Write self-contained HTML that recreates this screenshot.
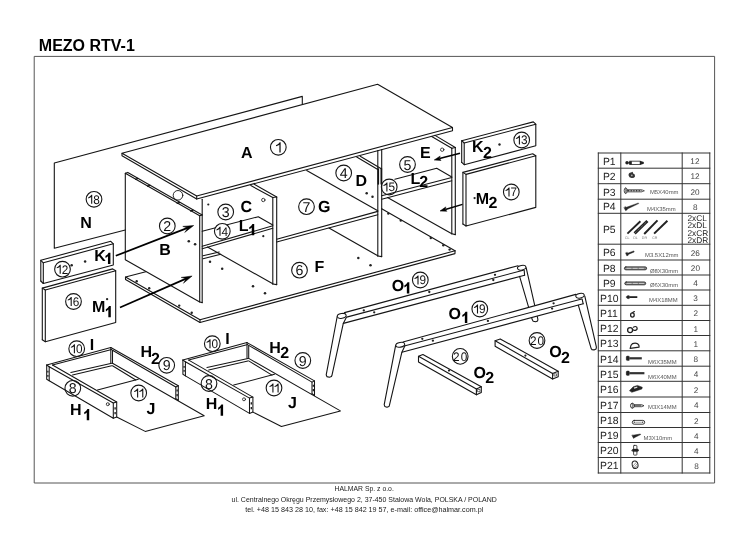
<!DOCTYPE html>
<html><head><meta charset="utf-8"><title>MEZO RTV-1</title>
<style>
html,body{margin:0;padding:0;background:#fff;}
body{width:756px;height:534px;position:relative;overflow:hidden;font-family:"Liberation Sans",sans-serif;}
svg{position:absolute;left:0;top:0;}
svg text{font-family:"Liberation Sans",sans-serif;text-rendering:geometricPrecision;}
.title{position:absolute;left:38.8px;top:37.2px;font-size:16px;font-weight:bold;color:#000;line-height:18px;white-space:nowrap;}
.foot{position:absolute;left:0;width:728.4px;text-align:center;font-size:7.1px;color:#222;line-height:10px;white-space:nowrap;transform-origin:364.2px 0;}
#page{position:absolute;left:0;top:0;width:756px;height:534px;background:#fff;filter:grayscale(1) blur(0.3px);}
</style></head><body><div id="page">
<div class="title">MEZO RTV-1</div>
<svg width="756" height="534" viewBox="0 0 756 534">
<g fill="none" stroke="#151515" stroke-linecap="round" stroke-linejoin="round">
<rect x="34.6" y="56.4" width="680" height="426.6" stroke="#555" stroke-width="1"/>
<path d="M125.3,230.0 L54.3,248.3 L54.3,163.0 L302.3,96.4 L302.3,103.9" stroke-width="1.1" />
<path d="M122.0,153.3 L196.7,196.0 L452.5,127.5 L377.6,84.3 Z" stroke-width="1.1" fill="#fff"/>
<path d="M122.0,153.3 L122.0,155.8 L196.7,199.0 L452.5,130.8 L452.5,127.5" stroke-width="1.1" />
<line x1="196.7" y1="196.0" x2="196.7" y2="199.0" stroke-width="1.1" />
<path d="M125.3,173.3 L199.7,215.8 L199.7,302.0 L125.3,259.8 Z" stroke-width="1.1" />
<path d="M125.3,173.3 L127.8,172.4 L202.2,214.9" stroke-width="1.1" />
<line x1="199.7" y1="215.8" x2="202.2" y2="214.9" stroke-width="1.1" />
<line x1="202.2" y1="199.2" x2="202.2" y2="302.6" stroke-width="1.1" />
<line x1="199.7" y1="302.0" x2="202.2" y2="302.6" stroke-width="1.1" />
<line x1="135.7" y1="179.3" x2="137.9" y2="178.4" stroke-width="1.4" />
<line x1="147.7" y1="186.2" x2="149.9" y2="185.3" stroke-width="1.4" />
<line x1="177.3" y1="203.4" x2="179.5" y2="202.5" stroke-width="1.4" />
<line x1="190.7" y1="211.0" x2="192.9" y2="210.1" stroke-width="1.4" />
<circle cx="178.0" cy="195.3" r="4.8" stroke-width="0.9"/>
<circle cx="188.8" cy="241.2" r="1.3" fill="#222" stroke="none"/>
<circle cx="195.1" cy="244.3" r="1.3" fill="#222" stroke="none"/>
<line x1="272.8" y1="197.5" x2="272.8" y2="284.0" stroke-width="1.1" />
<line x1="276.7" y1="197.0" x2="276.7" y2="284.6" stroke-width="1.1" />
<line x1="272.8" y1="284.0" x2="276.7" y2="284.6" stroke-width="1.1" />
<line x1="250.8" y1="185.6" x2="272.8" y2="197.5" stroke-width="1.1" />
<line x1="254.2" y1="184.2" x2="276.7" y2="197.0" stroke-width="1.1" />
<line x1="272.8" y1="197.5" x2="276.7" y2="197.0" stroke-width="1.1" />
<line x1="272.8" y1="283.7" x2="207.5" y2="247.0" stroke-width="1.1" />
<circle cx="263.3" cy="200.0" r="1.7" stroke-width="0.8"/>
<circle cx="208.3" cy="204.5" r="1.1" fill="#222" stroke="none"/>
<circle cx="263.3" cy="236.2" r="1.1" fill="#222" stroke="none"/>
<path d="M202.2,231.3 L258.3,216.7 L272.8,225.0" stroke-width="1.1" />
<line x1="272.8" y1="225.8" x2="202.2" y2="246.3" stroke-width="1.1" />
<line x1="272.8" y1="228.3" x2="202.2" y2="248.7" stroke-width="1.1" />
<line x1="203.0" y1="255.8" x2="219.2" y2="252.0" stroke-width="1.1" />
<line x1="203.0" y1="258.7" x2="220.8" y2="254.2" stroke-width="1.1" />
<line x1="276.7" y1="239.2" x2="377.8" y2="211.4" stroke-width="1.1" />
<line x1="276.7" y1="242.0" x2="377.8" y2="214.7" stroke-width="1.1" />
<line x1="306.7" y1="170.6" x2="377.8" y2="210.8" stroke-width="1.1" />
<line x1="377.8" y1="150.6" x2="377.8" y2="256.0" stroke-width="1.1" />
<line x1="381.7" y1="149.6" x2="381.7" y2="256.6" stroke-width="1.1" />
<line x1="377.8" y1="256.0" x2="381.7" y2="256.6" stroke-width="1.1" />
<line x1="356.7" y1="157.0" x2="377.8" y2="169.5" stroke-width="1.1" />
<line x1="360.2" y1="156.2" x2="381.7" y2="169.0" stroke-width="1.1" />
<line x1="377.8" y1="255.8" x2="329.0" y2="228.0" stroke-width="1.1" />
<line x1="378.3" y1="169.0" x2="378.3" y2="184.0" stroke-width="1.6" />
<line x1="381.3" y1="169.0" x2="381.3" y2="184.0" stroke-width="1.6" />
<circle cx="366.7" cy="193.3" r="1.25" fill="#222" stroke="none"/>
<circle cx="372.5" cy="196.7" r="1.25" fill="#222" stroke="none"/>
<path d="M394.8,179.2 L436.7,168.3 L451.8,176.9" stroke-width="1.1" />
<line x1="381.7" y1="195.8" x2="451.8" y2="177.5" stroke-width="1.1" />
<line x1="381.7" y1="199.2" x2="451.8" y2="180.8" stroke-width="1.1" />
<line x1="451.8" y1="148.3" x2="451.8" y2="233.8" stroke-width="1.1" />
<line x1="455.3" y1="147.5" x2="455.3" y2="234.6" stroke-width="1.1" />
<line x1="451.8" y1="233.8" x2="455.3" y2="234.6" stroke-width="1.1" />
<line x1="431.7" y1="136.5" x2="451.8" y2="148.3" stroke-width="1.1" />
<line x1="435.0" y1="135.4" x2="455.3" y2="147.5" stroke-width="1.1" />
<line x1="451.8" y1="148.3" x2="455.3" y2="147.5" stroke-width="1.1" />
<line x1="451.8" y1="233.7" x2="387.5" y2="197.6" stroke-width="1.1" />
<circle cx="442.2" cy="149.7" r="1.7" stroke-width="0.8"/>
<path d="M145.8,271.7 L125.5,277.0 L200.0,319.7 L455.0,250.8" stroke-width="1.1" />
<path d="M125.5,277.0 L125.5,279.6 L200.0,322.5 L455.0,253.6 L455.0,250.8" stroke-width="1.1" />
<line x1="200.0" y1="319.7" x2="200.0" y2="322.5" stroke-width="1.1" />
<line x1="381.7" y1="208.7" x2="455.0" y2="250.8" stroke-width="1.1" />
<circle cx="136.7" cy="281.3" r="1.2" fill="#222" stroke="none"/>
<circle cx="149.2" cy="288.2" r="1.2" fill="#222" stroke="none"/>
<circle cx="179.2" cy="305.6" r="1.2" fill="#222" stroke="none"/>
<circle cx="191.7" cy="312.8" r="1.2" fill="#222" stroke="none"/>
<circle cx="388.3" cy="213.6" r="1.2" fill="#222" stroke="none"/>
<circle cx="400.8" cy="220.6" r="1.2" fill="#222" stroke="none"/>
<circle cx="430.8" cy="238.0" r="1.2" fill="#222" stroke="none"/>
<circle cx="443.3" cy="245.2" r="1.2" fill="#222" stroke="none"/>
<circle cx="449.6" cy="249.6" r="1.2" fill="#222" stroke="none"/>
<circle cx="210.0" cy="261.7" r="1.25" fill="#222" stroke="none"/>
<circle cx="222.2" cy="268.7" r="1.25" fill="#222" stroke="none"/>
<circle cx="253.0" cy="286.2" r="1.25" fill="#222" stroke="none"/>
<circle cx="265.0" cy="293.3" r="1.25" fill="#222" stroke="none"/>
<circle cx="358.3" cy="258.0" r="1.25" fill="#222" stroke="none"/>
<circle cx="370.5" cy="265.3" r="1.25" fill="#222" stroke="none"/>
<path d="M464.2,143.0 L535.8,124.2 L535.8,145.8 L464.2,164.7 Z" stroke-width="1.1" />
<path d="M461.7,162.4 L461.7,140.7 L533.3,121.9 L535.8,124.2" stroke-width="1.1" />
<line x1="461.7" y1="162.4" x2="464.2" y2="164.7" stroke-width="1.1" />
<line x1="461.7" y1="140.7" x2="464.2" y2="143.0" stroke-width="1.1" />
<circle cx="499.5" cy="144.5" r="1.2" fill="#222" stroke="none"/>
<path d="M466.0,174.4 L535.8,155.8 L535.8,207.4 L466.0,226.0 Z" stroke-width="1.1" />
<path d="M462.9,224.0 L462.9,172.4 L532.7,153.8 L535.8,155.8" stroke-width="1.1" />
<line x1="462.9" y1="224.0" x2="466.0" y2="226.0" stroke-width="1.1" />
<line x1="462.9" y1="172.4" x2="466.0" y2="174.4" stroke-width="1.1" />
<path d="M43.3,262.8 L113.3,243.8 L113.3,265.0 L43.3,283.5 Z" stroke-width="1.1" />
<path d="M40.8,281.0 L40.8,260.3 L110.8,241.3 L113.3,243.8" stroke-width="1.1" />
<line x1="40.8" y1="281.0" x2="43.3" y2="283.5" stroke-width="1.1" />
<line x1="40.8" y1="260.3" x2="43.3" y2="262.8" stroke-width="1.1" />
<circle cx="71.7" cy="265.2" r="1.25" fill="#222" stroke="none"/>
<circle cx="85.1" cy="261.5" r="1.25" fill="#222" stroke="none"/>
<path d="M45.3,290.0 L115.7,270.8 L115.7,322.5 L45.3,341.7 Z" stroke-width="1.1" />
<path d="M42.3,339.8 L42.3,288.1 L112.7,268.9 L115.7,270.8" stroke-width="1.1" />
<line x1="42.3" y1="339.8" x2="45.3" y2="341.7" stroke-width="1.1" />
<line x1="42.3" y1="288.1" x2="45.3" y2="290.0" stroke-width="1.1" />
<circle cx="107.1" cy="299.2" r="1.15" fill="#222" stroke="none"/>
<line x1="115.8" y1="255.8" x2="187.6" y2="227.9" stroke="#000" stroke-width="1.7" stroke-linecap="butt"/>
<path d="M185.0,232.2 L193.7,225.5 L182.8,226.4 L187.6,227.9 Z" fill="#000" stroke="#000" stroke-width="0.5" stroke-linejoin="miter"/>
<line x1="120.0" y1="307.5" x2="186.1" y2="278.6" stroke="#000" stroke-width="1.7" stroke-linecap="butt"/>
<path d="M183.7,283.0 L192.1,276.0 L181.2,277.4 L186.1,278.6 Z" fill="#000" stroke="#000" stroke-width="0.5" stroke-linejoin="miter"/>
<line x1="460.0" y1="153.3" x2="439.5" y2="158.6" stroke="#000" stroke-width="1.5" stroke-linecap="butt"/>
<path d="M439.9,156.2 L434.2,160.0 L441.0,160.5 L439.5,158.6 Z" fill="#000" stroke="#000" stroke-width="0.5" stroke-linejoin="miter"/>
<line x1="462.5" y1="204.4" x2="445.3" y2="209.5" stroke="#000" stroke-width="1.5" stroke-linecap="butt"/>
<path d="M445.6,207.1 L440.0,211.0 L446.9,211.3 L445.3,209.5 Z" fill="#000" stroke="#000" stroke-width="0.5" stroke-linejoin="miter"/>
<path d="M116.7,417.0 L145.2,431.4 L204.2,415.8 L112.5,363.3" stroke-width="1.05" />
<path d="M46.7,365.0 L110.8,347.5" stroke-width="1.05" />
<path d="M52.5,365.0 L111.6,349.4" stroke-width="1.05" />
<path d="M70.8,372.5 L111.7,363.3" stroke-width="1.05" />
<path d="M72.5,375.0 L111.7,365.8" stroke-width="1.05" />
<line x1="110.8" y1="347.5" x2="110.8" y2="363.0" stroke-width="1.05" />
<line x1="112.5" y1="350.3" x2="112.5" y2="363.3" stroke-width="1.05" />
<path d="M110.8,347.5 L178.3,385.8 L178.3,400.3" stroke-width="1.05" />
<path d="M112.5,350.3 L175.8,387.0 L175.8,398.6" stroke-width="1.05" />
<line x1="175.8" y1="387.0" x2="178.3" y2="385.8" stroke-width="1.05" />
<line x1="175.8" y1="398.6" x2="178.3" y2="400.3" stroke-width="1.05" />
<path d="M112.5,365.8 L135.8,380.0" stroke-width="1.05" />
<line x1="97.5" y1="390.0" x2="138.3" y2="379.2" stroke-width="1.05" />
<path d="M46.7,365.0 L46.7,379.2 L49.2,380.8" stroke-width="1.05" />
<line x1="46.7" y1="365.0" x2="49.2" y2="366.7" stroke-width="1.05" />
<path d="M49.2,366.7 L113.3,403.0 L113.3,418.3 L49.2,380.8 Z" stroke-width="1.05" />
<path d="M52.5,365.0 L116.7,402.0 L116.7,417.0 L113.3,418.3" stroke-width="1.05" />
<line x1="113.3" y1="403.0" x2="116.7" y2="402.0" stroke-width="1.05" />
<line x1="47.9" y1="370.8" x2="47.9" y2="372.6" stroke-width="1.2" stroke-linecap="butt"/>
<line x1="47.9" y1="374.9" x2="47.9" y2="376.7" stroke-width="1.2" stroke-linecap="butt"/>
<circle cx="107.8" cy="404.2" r="1.5" stroke-width="0.8"/>
<line x1="115.1" y1="407.2" x2="115.1" y2="409.4" stroke-width="1.3" stroke-linecap="butt"/>
<line x1="115.1" y1="412.0" x2="115.1" y2="414.2" stroke-width="1.3" stroke-linecap="butt"/>
<line x1="177.1" y1="389.6" x2="177.1" y2="391.6" stroke-width="1.3" stroke-linecap="butt"/>
<line x1="177.1" y1="394.0" x2="177.1" y2="396.2" stroke-width="1.3" stroke-linecap="butt"/>
<path d="M252.9,412.1 L281.4,426.5 L340.4,410.9 L248.7,358.4" stroke-width="1.05" />
<path d="M182.9,360.1 L247.0,342.6" stroke-width="1.05" />
<path d="M188.7,360.1 L247.8,344.5" stroke-width="1.05" />
<path d="M207.0,367.6 L247.9,358.4" stroke-width="1.05" />
<path d="M208.7,370.1 L247.9,360.9" stroke-width="1.05" />
<line x1="247.0" y1="342.6" x2="247.0" y2="358.1" stroke-width="1.05" />
<line x1="248.7" y1="345.4" x2="248.7" y2="358.4" stroke-width="1.05" />
<path d="M247.0,342.6 L314.5,380.9 L314.5,395.4" stroke-width="1.05" />
<path d="M248.7,345.4 L312.0,382.1 L312.0,393.7" stroke-width="1.05" />
<line x1="312.0" y1="382.1" x2="314.5" y2="380.9" stroke-width="1.05" />
<line x1="312.0" y1="393.7" x2="314.5" y2="395.4" stroke-width="1.05" />
<path d="M248.7,360.9 L272.0,375.1" stroke-width="1.05" />
<line x1="233.7" y1="385.1" x2="274.5" y2="374.3" stroke-width="1.05" />
<path d="M182.9,360.1 L182.9,374.3 L185.4,375.9" stroke-width="1.05" />
<line x1="182.9" y1="360.1" x2="185.4" y2="361.8" stroke-width="1.05" />
<path d="M185.4,361.8 L249.5,398.1 L249.5,413.4 L185.4,375.9 Z" stroke-width="1.05" />
<path d="M188.7,360.1 L252.9,397.1 L252.9,412.1 L249.5,413.4" stroke-width="1.05" />
<line x1="249.5" y1="398.1" x2="252.9" y2="397.1" stroke-width="1.05" />
<line x1="184.1" y1="365.9" x2="184.1" y2="367.7" stroke-width="1.2" stroke-linecap="butt"/>
<line x1="184.1" y1="370.0" x2="184.1" y2="371.8" stroke-width="1.2" stroke-linecap="butt"/>
<circle cx="244.0" cy="399.3" r="1.5" stroke-width="0.8"/>
<line x1="251.3" y1="402.3" x2="251.3" y2="404.5" stroke-width="1.3" stroke-linecap="butt"/>
<line x1="251.3" y1="407.1" x2="251.3" y2="409.3" stroke-width="1.3" stroke-linecap="butt"/>
<line x1="313.3" y1="384.7" x2="313.3" y2="386.7" stroke-width="1.3" stroke-linecap="butt"/>
<line x1="313.3" y1="389.1" x2="313.3" y2="391.3" stroke-width="1.3" stroke-linecap="butt"/>
<path d="M526.2,267.9 L537.9,319.3 L537.6,320.9 L535.6,321.7 L533.2,321.3 L532.3,319.8 L519.6,276.4" stroke-width="1.1" />
<path d="M337.2,316.5 L326.2,374.8 L326.9,376.6 L329.4,377.3 L331.4,376.6 L331.9,375.6 L343.3,323.4 L346.4,317.2" stroke-width="1.1" />
<line x1="344.5" y1="312.6" x2="518.0" y2="265.7" stroke-width="1.1" />
<line x1="346.7" y1="317.1" x2="523.3" y2="270.2" stroke-width="1.1" />
<line x1="343.3" y1="323.4" x2="524.6" y2="275.2" stroke-width="1.1" />
<line x1="524.2" y1="270.4" x2="524.6" y2="275.2" stroke-width="1.1" />
<ellipse cx="341.7" cy="315.9" rx="4.5" ry="2.35" transform="rotate(-10 341.7 315.9)" fill="#fff" stroke-width="1.05"/>
<ellipse cx="521.7" cy="267.7" rx="4.3" ry="2.3" transform="rotate(-10 521.7 267.7)" fill="#fff" stroke-width="1.05"/>
<path d="M403.0,342.0 L575.8,294.4 L582.0,299.0 L583.2,303.8 L401.9,352.2 L405.2,345.8 Z" stroke-width="0.01" fill="#fff" stroke="none"/>
<line x1="403.0" y1="342.0" x2="575.8" y2="294.4" stroke-width="1.1" />
<line x1="405.2" y1="345.8" x2="581.7" y2="299.0" stroke-width="1.1" />
<line x1="401.9" y1="352.2" x2="583.2" y2="303.8" stroke-width="1.1" />
<line x1="582.1" y1="299.0" x2="583.2" y2="303.8" stroke-width="1.1" />
<path d="M395.7,345.2 L384.2,404.6 L384.8,406.4 L387.0,407.2 L388.9,406.5 L389.4,405.4 L401.9,352.2 L404.9,345.8" stroke-width="1.1" />
<path d="M584.8,296.1 L596.4,347.2 L596.1,348.9 L594.0,349.9 L592.0,349.6 L591.2,348.6 L578.3,305.2" stroke-width="1.1" />
<ellipse cx="400.25" cy="344.8" rx="4.5" ry="2.35" transform="rotate(-10 400.25 344.8)" fill="#fff" stroke-width="1.05"/>
<ellipse cx="580.0" cy="295.7" rx="4.3" ry="2.3" transform="rotate(-10 580.0 295.7)" fill="#fff" stroke-width="1.05"/>
<circle cx="363.8" cy="310.4" r="1.15" fill="#222" stroke="none"/>
<circle cx="374.2" cy="312.3" r="1.15" fill="#222" stroke="none"/>
<circle cx="429.3" cy="292.0" r="1.15" fill="#222" stroke="none"/>
<circle cx="495.0" cy="274.8" r="1.15" fill="#222" stroke="none"/>
<circle cx="493.3" cy="280.0" r="1.15" fill="#222" stroke="none"/>
<circle cx="422.3" cy="338.8" r="1.15" fill="#222" stroke="none"/>
<circle cx="432.9" cy="340.7" r="1.15" fill="#222" stroke="none"/>
<circle cx="487.9" cy="320.9" r="1.15" fill="#222" stroke="none"/>
<circle cx="553.6" cy="303.3" r="1.15" fill="#222" stroke="none"/>
<circle cx="552.1" cy="308.6" r="1.15" fill="#222" stroke="none"/>
<path d="M418.5,356.3 L422.9,354.5 L481.3,386.8 L476.4,389.0 Z" stroke-width="1.1" />
<path d="M418.5,356.3 L418.5,362.1 L476.4,394.8 L476.4,389.0" stroke-width="1.1" />
<path d="M476.4,394.8 L481.3,392.6 L481.3,386.8" stroke-width="1.1" />
<rect x="477.8" y="389.5" width="2.2" height="2.2" stroke-width="0.6"/>
<circle cx="449.0" cy="370.6" r="1.1" fill="#222" stroke="none"/>
<path d="M495.1,340.7 L500.2,338.9 L558.2,371.2 L552.6,373.4 Z" stroke-width="1.1" />
<path d="M495.1,340.7 L495.1,346.3 L552.6,379.0 L552.6,373.4" stroke-width="1.1" />
<path d="M552.6,379.0 L558.2,376.8 L558.2,371.2" stroke-width="1.1" />
<rect x="554.3" y="373.8" width="2.2" height="2.2" stroke-width="0.6"/>
<circle cx="525.4" cy="355.6" r="1.1" fill="#222" stroke="none"/>
<circle cx="278.3" cy="147.3" r="7.85" stroke-width="1.1" fill="none"/>
<path d="M280.64,152.38 L279.39,152.38 L279.39,144.66 Q278.49,145.57 276.06,146.28 L275.96,145.27 Q278.59,144.25 279.74,142.22 L280.64,142.22 Z" fill="#111" stroke="none"/>
<circle cx="167.3" cy="226.0" r="7.85" stroke-width="1.1" fill="none"/>
<text transform="translate(163.35,231.08) scale(1.0,1)" x="-0.00" y="0" font-size="14.2" fill="#111" stroke="none">2</text>
<circle cx="225.7" cy="212.0" r="7.85" stroke-width="1.1" fill="none"/>
<text transform="translate(221.75,217.08) scale(1.0,1)" x="-0.00" y="0" font-size="14.2" fill="#111" stroke="none">3</text>
<circle cx="343.7" cy="173.0" r="7.85" stroke-width="1.1" fill="none"/>
<text transform="translate(339.75,178.08) scale(1.0,1)" x="-0.00" y="0" font-size="14.2" fill="#111" stroke="none">4</text>
<circle cx="407.5" cy="164.5" r="7.85" stroke-width="1.1" fill="none"/>
<text transform="translate(403.55,169.58) scale(1.0,1)" x="-0.00" y="0" font-size="14.2" fill="#111" stroke="none">5</text>
<circle cx="299.5" cy="270.2" r="7.85" stroke-width="1.1" fill="none"/>
<text transform="translate(295.55,275.28) scale(1.0,1)" x="-0.00" y="0" font-size="14.2" fill="#111" stroke="none">6</text>
<circle cx="306.5" cy="206.7" r="7.85" stroke-width="1.1" fill="none"/>
<text transform="translate(302.55,211.78) scale(1.0,1)" x="-0.00" y="0" font-size="14.2" fill="#111" stroke="none">7</text>
<circle cx="72.8" cy="388.3" r="7.85" stroke-width="1.1" fill="none"/>
<text transform="translate(68.85,393.38) scale(1.0,1)" x="-0.00" y="0" font-size="14.2" fill="#111" stroke="none">8</text>
<circle cx="209.0" cy="383.5" r="7.85" stroke-width="1.1" fill="none"/>
<text transform="translate(205.05,388.58) scale(1.0,1)" x="-0.00" y="0" font-size="14.2" fill="#111" stroke="none">8</text>
<circle cx="166.7" cy="365.3" r="7.85" stroke-width="1.1" fill="none"/>
<text transform="translate(162.75,370.38) scale(1.0,1)" x="-0.00" y="0" font-size="14.2" fill="#111" stroke="none">9</text>
<circle cx="302.8" cy="360.5" r="7.85" stroke-width="1.1" fill="none"/>
<text transform="translate(298.85,365.58) scale(1.0,1)" x="-0.00" y="0" font-size="14.2" fill="#111" stroke="none">9</text>
<circle cx="76.7" cy="348.7" r="7.85" stroke-width="1.1" fill="none"/>
<path d="M74.94,353.14 L73.85,353.14 L73.85,346.39 Q72.95,347.19 70.95,347.81 L70.85,346.92 Q73.05,346.04 74.16,344.26 L74.94,344.26 Z" fill="#111" stroke="none"/>
<text transform="translate(76.00,353.14) scale(0.95,1)" x="-0.00" y="0" font-size="12.4" fill="#111" stroke="none">0</text>
<circle cx="212.3" cy="343.7" r="7.85" stroke-width="1.1" fill="none"/>
<path d="M210.54,348.14 L209.45,348.14 L209.45,341.39 Q208.55,342.19 206.55,342.81 L206.45,341.92 Q208.65,341.04 209.76,339.26 L210.54,339.26 Z" fill="#111" stroke="none"/>
<text transform="translate(211.60,348.14) scale(0.95,1)" x="-0.00" y="0" font-size="12.4" fill="#111" stroke="none">0</text>
<circle cx="138.7" cy="393.0" r="7.85" stroke-width="1.1" fill="none"/>
<path d="M138.17,397.44 L137.08,397.44 L137.08,390.69 Q136.18,391.49 134.18,392.11 L134.08,391.22 Q136.28,390.34 137.39,388.56 L138.17,388.56 Z" fill="#111" stroke="none"/>
<path d="M143.32,397.44 L142.23,397.44 L142.23,390.69 Q141.33,391.49 139.33,392.11 L139.23,391.22 Q141.43,390.34 142.53,388.56 L143.32,388.56 Z" fill="#111" stroke="none"/>
<circle cx="274.0" cy="388.0" r="7.85" stroke-width="1.1" fill="none"/>
<path d="M273.47,392.44 L272.38,392.44 L272.38,385.69 Q271.48,386.49 269.48,387.11 L269.38,386.22 Q271.58,385.34 272.69,383.56 L273.47,383.56 Z" fill="#111" stroke="none"/>
<path d="M278.62,392.44 L277.53,392.44 L277.53,385.69 Q276.63,386.49 274.63,387.11 L274.53,386.22 Q276.73,385.34 277.83,383.56 L278.62,383.56 Z" fill="#111" stroke="none"/>
<circle cx="62.5" cy="269.2" r="7.85" stroke-width="1.1" fill="none"/>
<path d="M60.74,273.64 L59.65,273.64 L59.65,266.89 Q58.75,267.69 56.75,268.31 L56.65,267.42 Q58.85,266.54 59.96,264.76 L60.74,264.76 Z" fill="#111" stroke="none"/>
<text transform="translate(61.80,273.64) scale(0.95,1)" x="-0.00" y="0" font-size="12.4" fill="#111" stroke="none">2</text>
<circle cx="521.7" cy="140.0" r="7.85" stroke-width="1.1" fill="none"/>
<path d="M519.94,144.44 L518.85,144.44 L518.85,137.69 Q517.95,138.49 515.95,139.11 L515.85,138.22 Q518.05,137.34 519.16,135.56 L519.94,135.56 Z" fill="#111" stroke="none"/>
<text transform="translate(521.00,144.44) scale(0.95,1)" x="-0.00" y="0" font-size="12.4" fill="#111" stroke="none">3</text>
<circle cx="222.3" cy="231.3" r="7.85" stroke-width="1.1" fill="#fff"/>
<path d="M220.54,235.74 L219.45,235.74 L219.45,228.99 Q218.55,229.79 216.55,230.41 L216.45,229.52 Q218.65,228.64 219.76,226.86 L220.54,226.86 Z" fill="#111" stroke="none"/>
<text transform="translate(221.60,235.74) scale(0.95,1)" x="-0.00" y="0" font-size="12.4" fill="#111" stroke="none">4</text>
<circle cx="389.2" cy="187.0" r="7.85" stroke-width="1.1" fill="none"/>
<path d="M387.44,191.44 L386.35,191.44 L386.35,184.69 Q385.45,185.49 383.45,186.11 L383.35,185.22 Q385.55,184.34 386.66,182.56 L387.44,182.56 Z" fill="#111" stroke="none"/>
<text transform="translate(388.50,191.44) scale(0.95,1)" x="-0.00" y="0" font-size="12.4" fill="#111" stroke="none">5</text>
<circle cx="73.5" cy="301.5" r="7.85" stroke-width="1.1" fill="none"/>
<path d="M71.74,305.94 L70.65,305.94 L70.65,299.19 Q69.75,299.99 67.75,300.61 L67.65,299.72 Q69.85,298.84 70.96,297.06 L71.74,297.06 Z" fill="#111" stroke="none"/>
<text transform="translate(72.80,305.94) scale(0.95,1)" x="-0.00" y="0" font-size="12.4" fill="#111" stroke="none">6</text>
<circle cx="511.3" cy="192.0" r="7.85" stroke-width="1.1" fill="none"/>
<path d="M509.54,196.44 L508.45,196.44 L508.45,189.69 Q507.55,190.49 505.55,191.11 L505.45,190.22 Q507.65,189.34 508.76,187.56 L509.54,187.56 Z" fill="#111" stroke="none"/>
<text transform="translate(510.60,196.44) scale(0.95,1)" x="-0.00" y="0" font-size="12.4" fill="#111" stroke="none">7</text>
<circle cx="94.0" cy="199.3" r="7.85" stroke-width="1.1" fill="none"/>
<path d="M92.24,203.74 L91.15,203.74 L91.15,196.99 Q90.25,197.79 88.25,198.41 L88.15,197.52 Q90.35,196.64 91.46,194.86 L92.24,194.86 Z" fill="#111" stroke="none"/>
<text transform="translate(93.30,203.74) scale(0.95,1)" x="-0.00" y="0" font-size="12.4" fill="#111" stroke="none">8</text>
<circle cx="420.3" cy="280.0" r="7.85" stroke-width="1.1" fill="none"/>
<path d="M418.54,284.44 L417.45,284.44 L417.45,277.69 Q416.55,278.49 414.55,279.11 L414.45,278.22 Q416.65,277.34 417.76,275.56 L418.54,275.56 Z" fill="#111" stroke="none"/>
<text transform="translate(419.60,284.44) scale(0.95,1)" x="-0.00" y="0" font-size="12.4" fill="#111" stroke="none">9</text>
<circle cx="479.8" cy="309.0" r="7.85" stroke-width="1.1" fill="none"/>
<path d="M478.04,313.44 L476.95,313.44 L476.95,306.69 Q476.05,307.49 474.05,308.11 L473.95,307.22 Q476.15,306.34 477.26,304.56 L478.04,304.56 Z" fill="#111" stroke="none"/>
<text transform="translate(479.10,313.44) scale(0.95,1)" x="-0.00" y="0" font-size="12.4" fill="#111" stroke="none">9</text>
<circle cx="460.2" cy="356.4" r="7.85" stroke-width="1.1" fill="none"/>
<text transform="translate(453.12,360.84) scale(0.95,1)" x="-0.00" y="0" font-size="12.4" fill="#111" stroke="none">2</text>
<text transform="translate(460.73,360.84) scale(0.95,1)" x="-0.00" y="0" font-size="12.4" fill="#111" stroke="none">0</text>
<circle cx="537.0" cy="340.5" r="7.85" stroke-width="1.1" fill="none"/>
<text transform="translate(529.92,344.94) scale(0.95,1)" x="-0.00" y="0" font-size="12.4" fill="#111" stroke="none">2</text>
<text transform="translate(537.53,344.94) scale(0.95,1)" x="-0.00" y="0" font-size="12.4" fill="#111" stroke="none">0</text>
<text x="241.12" y="158.10" font-size="16" font-weight="bold" fill="#000" stroke="none">A</text>
<text x="80.22" y="227.60" font-size="16" font-weight="bold" fill="#000" stroke="none">N</text>
<text x="159.22" y="255.30" font-size="16" font-weight="bold" fill="#000" stroke="none">B</text>
<text x="240.52" y="212.10" font-size="16" font-weight="bold" fill="#000" stroke="none">C</text>
<text x="355.52" y="185.50" font-size="16" font-weight="bold" fill="#000" stroke="none">D</text>
<text x="420.06" y="158.00" font-size="16" font-weight="bold" fill="#000" stroke="none">E</text>
<text x="314.41" y="271.90" font-size="16" font-weight="bold" fill="#000" stroke="none">F</text>
<text x="318.08" y="212.00" font-size="16" font-weight="bold" fill="#000" stroke="none">G</text>
<text x="238.81" y="230.60" font-size="16" font-weight="bold" fill="#000" stroke="none">L</text>
<path d="M254.20,235.20 L251.75,235.20 L251.75,227.50 Q250.60,228.60 249.35,229.30 L249.20,227.20 Q251.30,226.30 252.45,224.00 L254.20,224.00 Z" fill="#000" stroke="none"/>
<text x="410.41" y="183.70" font-size="16" font-weight="bold" fill="#000" stroke="none">L</text>
<text x="419.35" y="187.28" font-size="16" font-weight="bold" fill="#000" stroke="none">2</text>
<text x="94.32" y="260.50" font-size="16" font-weight="bold" fill="#000" stroke="none">K</text>
<path d="M110.40,263.90 L107.95,263.90 L107.95,256.20 Q106.80,257.30 105.55,258.00 L105.40,255.90 Q107.50,255.00 108.65,252.70 L110.40,252.70 Z" fill="#000" stroke="none"/>
<text x="472.12" y="152.20" font-size="16" font-weight="bold" fill="#000" stroke="none">K</text>
<text x="483.05" y="157.68" font-size="16" font-weight="bold" fill="#000" stroke="none">2</text>
<text x="91.94" y="312.20" font-size="16" font-weight="bold" fill="#000" stroke="none">M</text>
<path d="M110.80,317.30 L108.35,317.30 L108.35,309.60 Q107.20,310.70 105.95,311.40 L105.80,309.30 Q107.90,308.40 109.05,306.10 L110.80,306.10 Z" fill="#000" stroke="none"/>
<text x="475.84" y="203.80" font-size="16" font-weight="bold" fill="#000" stroke="none">M</text>
<text x="488.55" y="208.08" font-size="16" font-weight="bold" fill="#000" stroke="none">2</text>
<text x="89.78" y="350.40" font-size="16" font-weight="bold" fill="#000" stroke="none">I</text>
<text x="140.52" y="357.20" font-size="16" font-weight="bold" fill="#000" stroke="none">H</text>
<text x="151.05" y="363.88" font-size="16" font-weight="bold" fill="#000" stroke="none">2</text>
<text x="70.02" y="414.70" font-size="16" font-weight="bold" fill="#000" stroke="none">H</text>
<path d="M89.20,420.20 L86.75,420.20 L86.75,412.50 Q85.60,413.60 84.35,414.30 L84.20,412.20 Q86.30,411.30 87.45,409.00 L89.20,409.00 Z" fill="#000" stroke="none"/>
<text x="146.45" y="414.22" font-size="16" font-weight="bold" fill="#000" stroke="none">J</text>
<text x="225.28" y="344.40" font-size="16" font-weight="bold" fill="#000" stroke="none">I</text>
<text x="269.22" y="352.80" font-size="16" font-weight="bold" fill="#000" stroke="none">H</text>
<text x="280.15" y="358.48" font-size="16" font-weight="bold" fill="#000" stroke="none">2</text>
<text x="205.82" y="409.00" font-size="16" font-weight="bold" fill="#000" stroke="none">H</text>
<path d="M223.10,415.80 L220.65,415.80 L220.65,408.10 Q219.50,409.20 218.25,409.90 L218.10,407.80 Q220.20,406.90 221.35,404.60 L223.10,404.60 Z" fill="#000" stroke="none"/>
<text x="287.95" y="407.82" font-size="16" font-weight="bold" fill="#000" stroke="none">J</text>
<text x="391.68" y="290.50" font-size="16" font-weight="bold" fill="#000" stroke="none">O</text>
<path d="M409.30,293.50 L406.85,293.50 L406.85,285.80 Q405.70,286.90 404.45,287.60 L404.30,285.50 Q406.40,284.60 407.55,282.30 L409.30,282.30 Z" fill="#000" stroke="none"/>
<text x="448.48" y="318.50" font-size="16" font-weight="bold" fill="#000" stroke="none">O</text>
<path d="M467.30,323.00 L464.85,323.00 L464.85,315.30 Q463.70,316.40 462.45,317.10 L462.30,315.00 Q464.40,314.10 465.55,311.80 L467.30,311.80 Z" fill="#000" stroke="none"/>
<text x="473.38" y="378.40" font-size="16" font-weight="bold" fill="#000" stroke="none">O</text>
<text x="485.25" y="383.48" font-size="16" font-weight="bold" fill="#000" stroke="none">2</text>
<text x="549.18" y="357.20" font-size="16" font-weight="bold" fill="#000" stroke="none">O</text>
<text x="560.95" y="363.48" font-size="16" font-weight="bold" fill="#000" stroke="none">2</text>
<circle cx="474.6" cy="198.1" r="1.15" fill="#222" stroke="none"/>
</g>
<g fill="none" stroke="#333" stroke-linecap="square">
<line x1="598.3" y1="153.0" x2="709.8" y2="153.0" stroke-width="1.0" />
<line x1="598.3" y1="168.2" x2="709.8" y2="168.2" stroke-width="1.0" />
<line x1="598.3" y1="183.7" x2="709.8" y2="183.7" stroke-width="1.0" />
<line x1="598.3" y1="199.2" x2="709.8" y2="199.2" stroke-width="1.0" />
<line x1="598.3" y1="213.3" x2="709.8" y2="213.3" stroke-width="1.0" />
<line x1="598.3" y1="244.2" x2="709.8" y2="244.2" stroke-width="1.0" />
<line x1="598.3" y1="260.0" x2="709.8" y2="260.0" stroke-width="1.0" />
<line x1="598.3" y1="275.0" x2="709.8" y2="275.0" stroke-width="1.0" />
<line x1="598.3" y1="290.0" x2="709.8" y2="290.0" stroke-width="1.0" />
<line x1="598.3" y1="305.3" x2="709.8" y2="305.3" stroke-width="1.0" />
<line x1="598.3" y1="320.5" x2="709.8" y2="320.5" stroke-width="1.0" />
<line x1="598.3" y1="335.5" x2="709.8" y2="335.5" stroke-width="1.0" />
<line x1="598.3" y1="350.8" x2="709.8" y2="350.8" stroke-width="1.0" />
<line x1="598.3" y1="366.2" x2="709.8" y2="366.2" stroke-width="1.0" />
<line x1="598.3" y1="381.3" x2="709.8" y2="381.3" stroke-width="1.0" />
<line x1="598.3" y1="397.0" x2="709.8" y2="397.0" stroke-width="1.0" />
<line x1="598.3" y1="412.5" x2="709.8" y2="412.5" stroke-width="1.0" />
<line x1="598.3" y1="427.5" x2="709.8" y2="427.5" stroke-width="1.0" />
<line x1="598.3" y1="442.5" x2="709.8" y2="442.5" stroke-width="1.0" />
<line x1="598.3" y1="457.5" x2="709.8" y2="457.5" stroke-width="1.0" />
<line x1="598.3" y1="473.0" x2="709.8" y2="473.0" stroke-width="1.0" />
<line x1="598.3" y1="153.0" x2="598.3" y2="473.0" stroke-width="1.0" />
<line x1="620.8" y1="153.0" x2="620.8" y2="473.0" stroke-width="1.0" />
<line x1="682.2" y1="153.0" x2="682.2" y2="473.0" stroke-width="1.0" />
<line x1="709.8" y1="153.0" x2="709.8" y2="473.0" stroke-width="1.0" />
<text x="602.9" y="164.7" font-size="10.4" fill="#222" stroke="none">P1</text>
<text x="694.9" y="164.1" font-size="8.2" text-anchor="middle" fill="#444" stroke="none">12</text>
<text x="602.9" y="180.0" font-size="10.4" fill="#222" stroke="none">P2</text>
<text x="695.0" y="179.4" font-size="8.2" text-anchor="middle" fill="#444" stroke="none">12</text>
<text x="602.9" y="195.5" font-size="10.4" fill="#222" stroke="none">P3</text>
<text x="695.1" y="194.9" font-size="8.2" text-anchor="middle" fill="#444" stroke="none">20</text>
<text transform="translate(649.9,194.3) scale(1.04,1)" font-size="5.7" fill="#555" stroke="none">M5X40mm</text>
<text x="602.9" y="210.3" font-size="10.4" fill="#222" stroke="none">P4</text>
<text x="695.2" y="209.8" font-size="8.2" text-anchor="middle" fill="#444" stroke="none">8</text>
<text transform="translate(647.0,211.0) scale(1.04,1)" font-size="5.7" fill="#555" stroke="none">M4X35mm</text>
<text x="602.9" y="232.8" font-size="10.4" fill="#222" stroke="none">P5</text>
<text x="602.9" y="256.2" font-size="10.4" fill="#222" stroke="none">P6</text>
<text x="695.3" y="255.6" font-size="8.2" text-anchor="middle" fill="#444" stroke="none">26</text>
<text transform="translate(645.0,257.2) scale(1.04,1)" font-size="5.7" fill="#555" stroke="none">M3.5X12mm</text>
<text x="602.9" y="271.6" font-size="10.4" fill="#222" stroke="none">P8</text>
<text x="695.4" y="271.0" font-size="8.2" text-anchor="middle" fill="#444" stroke="none">20</text>
<text transform="translate(649.9,272.5) scale(1.04,1)" font-size="5.7" fill="#555" stroke="none">Ø8X30mm</text>
<text x="602.9" y="286.6" font-size="10.4" fill="#222" stroke="none">P9</text>
<text x="695.5" y="286.0" font-size="8.2" text-anchor="middle" fill="#444" stroke="none">4</text>
<text transform="translate(649.9,287.4) scale(1.04,1)" font-size="5.7" fill="#555" stroke="none">Ø6X30mm</text>
<text x="600.0" y="301.8" font-size="10.4" fill="#222" stroke="none">P10</text>
<text x="695.6" y="301.1" font-size="8.2" text-anchor="middle" fill="#444" stroke="none">3</text>
<text transform="translate(649.0,301.9) scale(1.04,1)" font-size="5.7" fill="#555" stroke="none">M4X18MM</text>
<text x="600.0" y="317.0" font-size="10.4" fill="#222" stroke="none">P11</text>
<text x="695.7" y="316.4" font-size="8.2" text-anchor="middle" fill="#444" stroke="none">2</text>
<text x="600.0" y="332.1" font-size="10.4" fill="#222" stroke="none">P12</text>
<text x="695.8" y="331.5" font-size="8.2" text-anchor="middle" fill="#444" stroke="none">1</text>
<text x="600.0" y="347.2" font-size="10.4" fill="#222" stroke="none">P13</text>
<text x="695.8" y="346.6" font-size="8.2" text-anchor="middle" fill="#444" stroke="none">1</text>
<text x="600.0" y="362.6" font-size="10.4" fill="#222" stroke="none">P14</text>
<text x="695.9" y="362.0" font-size="8.2" text-anchor="middle" fill="#444" stroke="none">8</text>
<text transform="translate(648.1,364.1) scale(1.04,1)" font-size="5.7" fill="#555" stroke="none">M6X35MM</text>
<text x="600.0" y="377.9" font-size="10.4" fill="#222" stroke="none">P15</text>
<text x="696.0" y="377.2" font-size="8.2" text-anchor="middle" fill="#444" stroke="none">4</text>
<text transform="translate(648.1,378.9) scale(1.04,1)" font-size="5.7" fill="#555" stroke="none">M6X40MM</text>
<text x="600.0" y="393.2" font-size="10.4" fill="#222" stroke="none">P16</text>
<text x="696.1" y="392.6" font-size="8.2" text-anchor="middle" fill="#444" stroke="none">2</text>
<text x="600.0" y="408.9" font-size="10.4" fill="#222" stroke="none">P17</text>
<text x="696.2" y="408.2" font-size="8.2" text-anchor="middle" fill="#444" stroke="none">4</text>
<text transform="translate(648.1,408.7) scale(1.04,1)" font-size="5.7" fill="#555" stroke="none">M3X14MM</text>
<text x="600.0" y="424.1" font-size="10.4" fill="#222" stroke="none">P18</text>
<text x="696.3" y="423.5" font-size="8.2" text-anchor="middle" fill="#444" stroke="none">2</text>
<text x="600.0" y="439.1" font-size="10.4" fill="#222" stroke="none">P19</text>
<text x="696.3" y="438.5" font-size="8.2" text-anchor="middle" fill="#444" stroke="none">4</text>
<text transform="translate(643.6,439.7) scale(1.04,1)" font-size="5.7" fill="#555" stroke="none">M3X10mm</text>
<text x="600.0" y="454.1" font-size="10.4" fill="#222" stroke="none">P20</text>
<text x="696.4" y="453.5" font-size="8.2" text-anchor="middle" fill="#444" stroke="none">4</text>
<text x="600.0" y="469.4" font-size="10.4" fill="#222" stroke="none">P21</text>
<text x="696.5" y="468.8" font-size="8.2" text-anchor="middle" fill="#444" stroke="none">8</text>
<text x="687.4" y="220.6" font-size="8.3" fill="#222" stroke="none">2xCL</text>
<text x="687.4" y="228.1" font-size="8.3" fill="#222" stroke="none">2xDL</text>
<text x="687.4" y="235.6" font-size="8.3" fill="#222" stroke="none">2xCR</text>
<text x="687.4" y="243.1" font-size="8.3" fill="#222" stroke="none">2xDR</text>
</g>
<g fill="none" stroke="#222" stroke-linecap="round" stroke-linejoin="round">
<!-- P1 -->
<circle cx="627.0" cy="162.8" r="1.7" fill="#222" stroke="none"/>
<rect x="628.4" y="162.0" width="1.6" height="1.6" fill="#222" stroke="none"/>
<rect x="629.8" y="161.2" width="10.4" height="3.3" stroke-width="0.8"/>
<rect x="629.8" y="161.2" width="2.0" height="3.3" fill="#222" stroke="none"/>
<path d="M640.0,160.8 L643.8,162.0 L643.8,163.8 L640.0,164.9 Z" fill="#222" stroke="none"/>
<!-- P2 -->
<path d="M628.6,175.6 Q628.2,172.6 631.0,172.4 L632.6,171.8 L633.2,173.6 Q635.4,174.2 635.0,176.4 Q634.2,178.2 631.6,178.0 Q629.0,177.8 628.6,175.6 Z" fill="#333" stroke="none"/>
<circle cx="631.8" cy="175.4" r="0.9" fill="#aaa" stroke="none"/>
<!-- P3 -->
<ellipse cx="625.7" cy="190.7" rx="1.5" ry="2.8" stroke-width="0.8"/>
<line x1="625.7" y1="188.0" x2="625.7" y2="193.4" stroke-width="0.6"/>
<path d="M627.2,189.7 L641.6,189.7 L644.4,190.8 L641.6,191.9 L627.2,191.9" stroke-width="0.7"/>
<line x1="628.0" y1="190.8" x2="641.5" y2="190.8" stroke-width="1.4" stroke-dasharray="0.9 0.7" stroke-linecap="butt"/>
<!-- P4 -->
<path d="M624.0,207.8 L625.6,210.7 L627.3,209.8 L627.0,209.2 L638.8,203.6 L638.4,202.9 L626.3,207.3 L625.9,206.7 Z" fill="#2a2a2a" stroke="#2a2a2a" stroke-width="0.4"/>
<!-- P5 rails -->
<line x1="627.4" y1="233.6" x2="640.4" y2="221.2" stroke-width="1.9" stroke-linecap="butt"/>
<line x1="634.6" y1="233.4" x2="647.4" y2="221.0" stroke-width="3.0" stroke-linecap="butt"/>
<line x1="635.2" y1="232.8" x2="646.8" y2="221.6" stroke="#999" stroke-width="0.8" stroke-dasharray="1 1" stroke-linecap="butt"/>
<line x1="644.2" y1="234.0" x2="657.5" y2="220.4" stroke-width="2.0" stroke-linecap="butt"/>
<line x1="654.1" y1="233.6" x2="667.4" y2="220.8" stroke-width="2.0" stroke-linecap="butt"/>
<!-- P6 -->
<path d="M625.7,253.2 L626.9,255.9 L628.4,255.1 L628.1,254.5 L634.2,251.9 L633.8,250.9 L627.6,253.3 L627.3,252.5 Z" fill="#222" stroke="#222" stroke-width="0.5"/>
<!-- P8 -->
<rect x="624.4" y="266.9" width="22.2" height="2.9" rx="1.45" stroke-width="1.0" fill="#888" stroke="#333"/>
<line x1="626.4" y1="268.35" x2="644.8" y2="268.35" stroke="#ddd" stroke-width="0.8" stroke-dasharray="5 1.2" stroke-linecap="butt"/>
<!-- P9 -->
<rect x="624.8" y="282.0" width="20.9" height="2.8" rx="1.4" stroke-width="1.0" fill="#888" stroke="#333"/>
<line x1="626.6" y1="283.4" x2="644.0" y2="283.4" stroke="#ddd" stroke-width="0.8" stroke-dasharray="5 1.2" stroke-linecap="butt"/>
<!-- P10 -->
<path d="M626.4,297.1 Q626.6,295.7 628.2,295.6 L629.3,295.8 L629.3,298.5 L628.2,298.7 Q626.6,298.6 626.4,297.1 Z" fill="#222" stroke="#222" stroke-width="0.4"/>
<line x1="629.2" y1="297.1" x2="637.3" y2="297.1" stroke-width="1.8" stroke-linecap="butt"/>
<!-- P11 -->
<ellipse cx="632.4" cy="315.0" rx="1.8" ry="2.1" stroke-width="1.3"/>
<path d="M632.6,312.8 Q633.2,311.8 634.4,311.6" stroke-width="1.2"/>
<!-- P12 -->
<circle cx="630.1" cy="330.1" r="2.5" stroke-width="1.3"/>
<path d="M633.4,327.2 Q635.4,325.8 636.8,327.2 Q637.8,329.2 636.0,330.2 Q634.6,330.6 633.4,329.9" stroke-width="1.2"/>
<!-- P13 -->
<path d="M630.2,348.4 Q630.4,345.2 632.6,343.6 Q635.4,342.4 637.6,343.8 Q639.4,345.2 639.1,347.2 Z" stroke-width="1.25"/>
<!-- P14 -->
<path d="M626.2,357.0 Q626.0,356.2 627.6,356.0 L629.2,356.2 L629.2,360.4 L627.6,360.6 Q626.0,360.4 626.2,359.6 Z" fill="#222" stroke="#222" stroke-width="0.4"/>
<line x1="629.2" y1="358.3" x2="641.8" y2="358.3" stroke-width="2.2" stroke-linecap="butt" stroke="#333"/>

<!-- P15 -->
<path d="M626.2,371.9 Q626.0,371.1 627.6,370.9 L629.2,371.1 L629.2,375.3 L627.6,375.5 Q626.0,375.3 626.2,374.5 Z" fill="#222" stroke="#222" stroke-width="0.4"/>
<line x1="629.2" y1="373.2" x2="644.4" y2="373.2" stroke-width="2.2" stroke-linecap="butt" stroke="#333"/>

<!-- P16 -->
<path d="M629.6,390.4 L633.2,386.8 L637.4,385.4 L642.3,387.2 L641.9,389.0 L632.0,392.2 Z" fill="#222" stroke="#222" stroke-width="0.5"/>
<path d="M633.8,387.6 L637.2,386.4 L637.4,387.8 L634.2,388.8 Z" fill="#ddd" stroke="none"/>
<!-- P17 -->
<ellipse cx="632.4" cy="405.7" rx="1.9" ry="2.5" stroke-width="0.9"/>
<line x1="632.4" y1="403.4" x2="632.4" y2="408.0" stroke-width="0.6"/>
<path d="M634.4,404.7 L641.6,404.7 L644.0,405.7 L641.6,406.7 L634.4,406.7" stroke-width="0.8"/>
<line x1="634.8" y1="405.7" x2="641.4" y2="405.7" stroke="#555" stroke-width="1.0" stroke-linecap="butt"/>
<!-- P18 -->
<rect x="632.3" y="420.4" width="12.4" height="3.8" rx="1.9" stroke-width="0.9"/>
<circle cx="634.3" cy="422.3" r="0.7" fill="#444" stroke="none"/>
<circle cx="642.6" cy="422.3" r="0.7" fill="#444" stroke="none"/>
<line x1="635.6" y1="422.3" x2="641.4" y2="422.3" stroke="#888" stroke-width="0.7"/>
<!-- P19 -->
<path d="M632.0,435.4 L633.6,438.4 L634.8,437.4 L640.6,434.6 L640.4,434.0 L634.4,435.0 Z" fill="#222" stroke="#222" stroke-width="0.5"/>
<!-- P20 -->
<rect x="633.6" y="445.4" width="3.3" height="9.7" rx="0.6" stroke-width="0.8"/>
<path d="M631.6,450.3 L633.0,449.0 L637.6,449.0 L639.0,450.3 L637.6,451.6 L633.0,451.6 Z" fill="#222" stroke="#222" stroke-width="0.4"/>
<!-- P21 -->
<ellipse cx="635.1" cy="464.8" rx="2.9" ry="3.8" stroke-width="1.0" transform="rotate(-12 635.1 464.8)"/>
<path d="M633.4,465.6 L636.0,462.6 M634.0,467.4 L637.2,463.8 M635.2,468.0 L637.4,465.8" stroke-width="0.6" stroke="#555"/>
</g>
<g fill="#777" stroke="none" font-size="3.6">
<text x="625.0" y="239.3">CL</text><text x="633.2" y="239.3">DL</text><text x="641.8" y="239.3">DR</text><text x="652.2" y="239.3">CR</text>
</g>

</svg>
<div class="foot" style="top:484.2px;transform:scaleX(0.963)">HALMAR Sp. z o.o.</div>
<div class="foot" style="top:494.5px;transform:scaleX(0.984)">ul. Centralnego Okręgu Przemysłowego 2, 37-450 Stalowa Wola, POLSKA / POLAND</div>
<div class="foot" style="top:504.8px;transform:scaleX(1.013)">tel. +48 15 843 28 10, fax: +48 15 842 19 57, e-mail: office@halmar.com.pl</div>
</div></body></html>
